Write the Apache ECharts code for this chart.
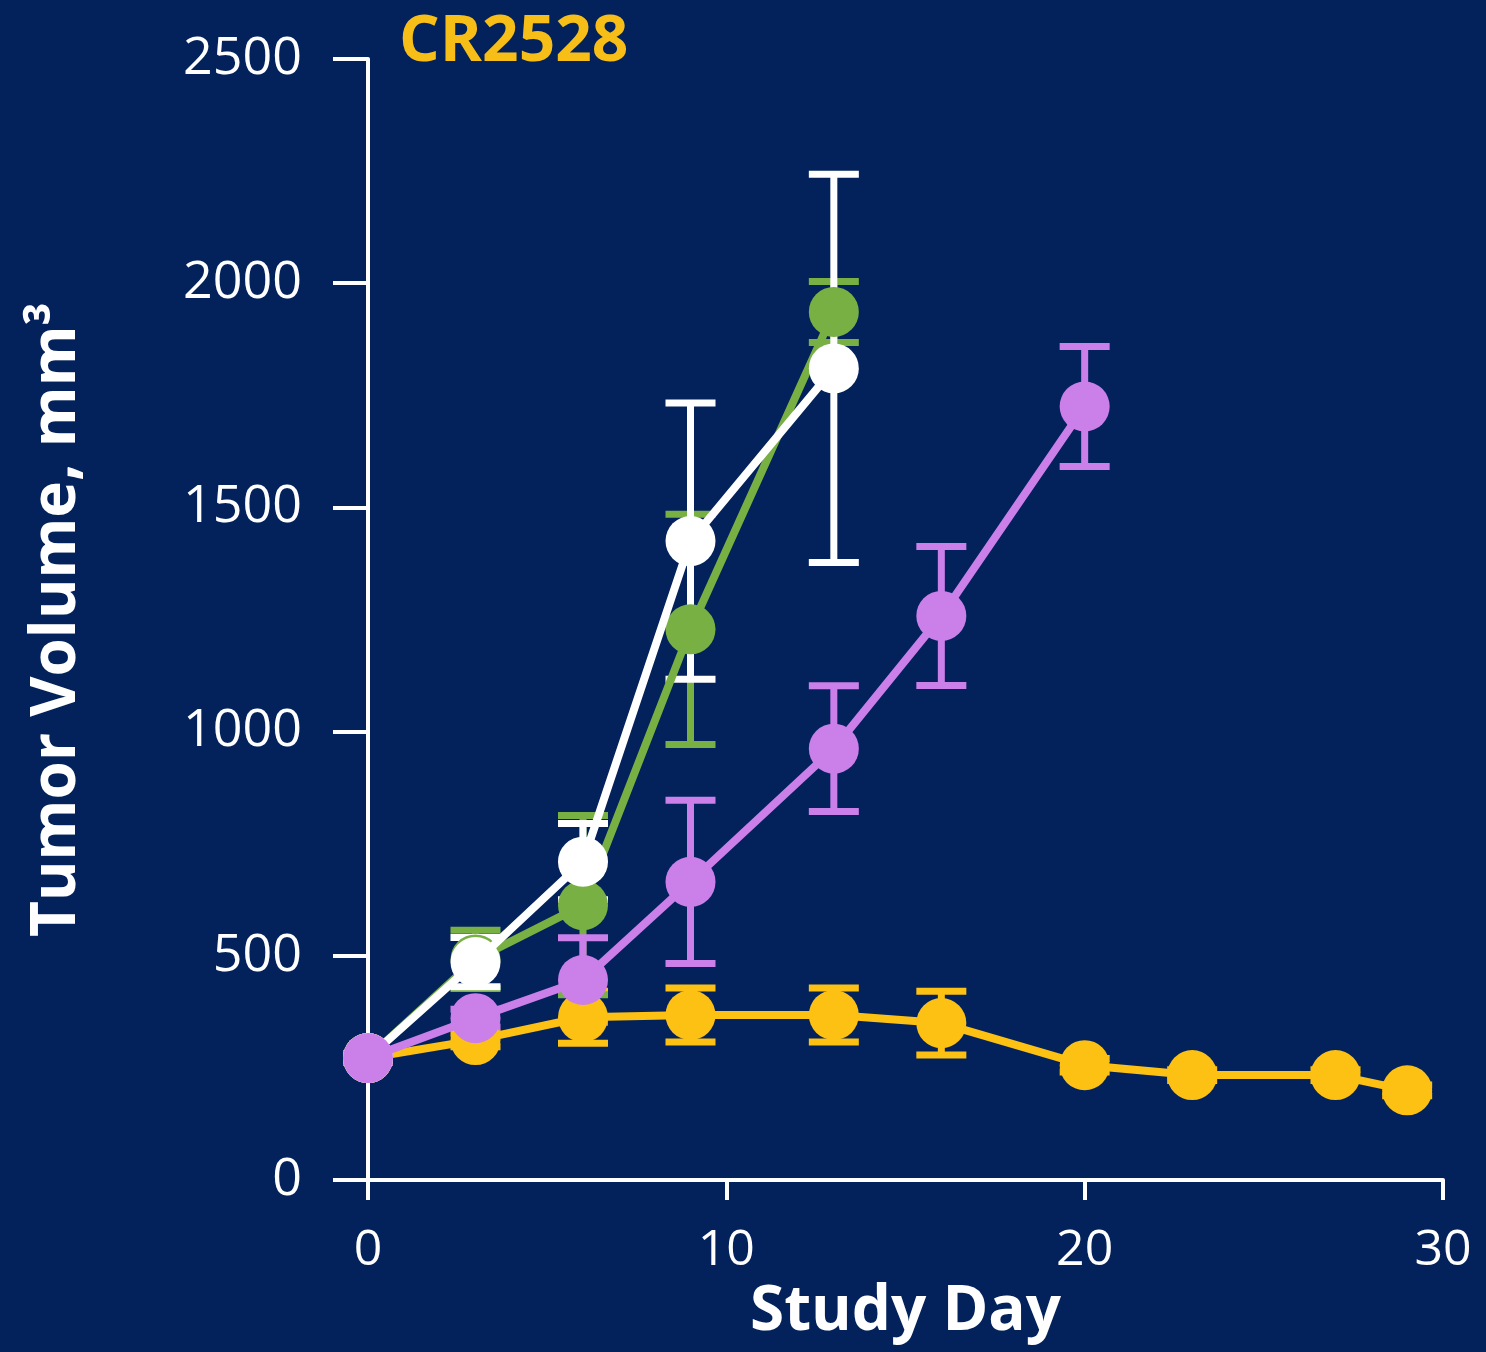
<!DOCTYPE html>
<html>
<head>
<meta charset="utf-8">
<title>CR2528 tumor volume</title>
<script src="https://cdn.jsdelivr.net/npm/echarts@6/dist/echarts.min.js"></script>
<style>
  html, body { margin: 0; padding: 0; background: #03225B; }
  #chart { width: 1486px; height: 1352px; }
</style>
</head>
<body>
<div id="chart"></div>
<script>
// Mean tumor volume (mm³) and SEM per study day, one group per colour
const yellowDays = [0, 3, 6, 9, 13, 16, 20, 23, 27, 29];
const yellowMean = [272, 312, 363, 368, 368, 350, 256, 234, 234, 200];
const yellowSem  = [10, 15, 58, 60, 60, 71, 15, 12, 12, 12];

const greenDays = [0, 3, 6, 9, 13];
const greenMean = [272, 492, 613, 1228, 1936];
const greenSem  = [10, 65, 200, 257, 68];

const whiteDays = [0, 3, 6, 9, 13];
const whiteMean = [272, 486, 710, 1425, 1810];
const whiteSem  = [10, 55, 85, 308, 433];

const purpleDays = [0, 3, 6, 9, 13, 16, 20];
const purpleMean = [272, 361, 446, 665, 962, 1258, 1725];
const purpleSem  = [10, 20, 94, 182, 140, 155, 134];

const xTicks = [0, 10, 20, 30];
const yTicks = [0, 500, 1000, 1500, 2000, 2500];

const titleText = 'CR2528';
const xName = 'Study Day';
const yName = 'Tumor Volume, mm³';

const COLORS = {
  yellow: '#FDC114',
  green: '#78B043',
  white: '#FFFFFF',
  purple: '#CB7FE9'
};

const groups = [
  { key: 'yellow', days: yellowDays, mean: yellowMean, sem: yellowSem },
  { key: 'green',  days: greenDays,  mean: greenMean,  sem: greenSem },
  { key: 'white',  days: whiteDays,  mean: whiteMean,  sem: whiteSem },
  { key: 'purple', days: purpleDays, mean: purpleMean, sem: purpleSem }
];

// Error bar with caps, drawn through the axis scales
function errorBarRenderer(color) {
  return function (params, api) {
    const x = api.value(0);
    const top = api.coord([x, api.value(2)]);
    const bot = api.coord([x, api.value(1)]);
    const half = 25;
    const style = { stroke: color, lineWidth: 7 };
    return {
      type: 'group',
      children: [
        { type: 'line', shape: { x1: top[0], y1: top[1], x2: bot[0], y2: bot[1] }, style: style },
        { type: 'line', shape: { x1: top[0] - half, y1: top[1], x2: top[0] + half, y2: top[1] }, style: style },
        { type: 'line', shape: { x1: bot[0] - half, y1: bot[1], x2: bot[0] + half, y2: bot[1] }, style: style }
      ]
    };
  };
}

const series = [];
groups.forEach(function (g) {
  series.push({
    type: 'custom',
    name: g.key + '-sem',
    z: 1,
    renderItem: errorBarRenderer(COLORS[g.key]),
    encode: { x: 0, y: [1, 2] },
    data: g.days.map(function (d, i) { return [d, g.mean[i] - g.sem[i], g.mean[i] + g.sem[i]]; })
  });
});
groups.forEach(function (g, idx) {
  series.push({
    type: 'line',
    name: g.key,
    z: 3 + idx,
    symbol: 'circle',
    symbolSize: 50,
    showSymbol: true,
    lineStyle: { color: COLORS[g.key], width: 8 },
    itemStyle: { color: COLORS[g.key] },
    data: g.days.map(function (d, i) { return [d, g.mean[i]]; })
  });
});

const chart = echarts.init(document.getElementById('chart'), null, { renderer: 'canvas' });
chart.setOption({
  backgroundColor: '#03225B',
  animation: false,
  title: {
    text: titleText,
    left: 394,
    top: 6,
    textStyle: { color: '#F7BE17', fontFamily: 'Open Sans', fontWeight: 'bold', fontSize: 64 }
  },
  grid: { left: 368, right: 43, top: 59, bottom: 172 },
  xAxis: {
    type: 'value',
    min: xTicks[0],
    max: xTicks[xTicks.length - 1],
    interval: xTicks[1] - xTicks[0],
    name: xName,
    nameLocation: 'middle',
    nameGap: 92,
    nameTextStyle: { color: '#FFFFFF', fontFamily: 'Open Sans', fontWeight: 'bold', fontSize: 62 },
    axisLine: { onZero: false, lineStyle: { color: '#FFFFFF', width: 4 } },
    axisTick: { length: 20, lineStyle: { color: '#FFFFFF', width: 4 } },
    axisLabel: { color: '#FFFFFF', fontFamily: 'Open Sans', fontSize: 50, margin: 46 },
    splitLine: { show: false }
  },
  yAxis: {
    type: 'value',
    min: yTicks[0],
    max: yTicks[yTicks.length - 1],
    interval: yTicks[1] - yTicks[0],
    name: yName,
    nameLocation: 'middle',
    nameGap: 280,
    nameTextStyle: { color: '#FFFFFF', fontFamily: 'Open Sans', fontWeight: 'bold', fontSize: 62 },
    axisLine: { onZero: false, lineStyle: { color: '#FFFFFF', width: 4 } },
    axisTick: { length: 35, lineStyle: { color: '#FFFFFF', width: 4 } },
    axisLabel: {
      color: '#FFFFFF', fontFamily: 'Open Sans', fontSize: 52, margin: 66,
      formatter: function (v) { return String(v); }
    },
    splitLine: { show: false }
  },
  series: series
});
</script>
</body>
</html>
